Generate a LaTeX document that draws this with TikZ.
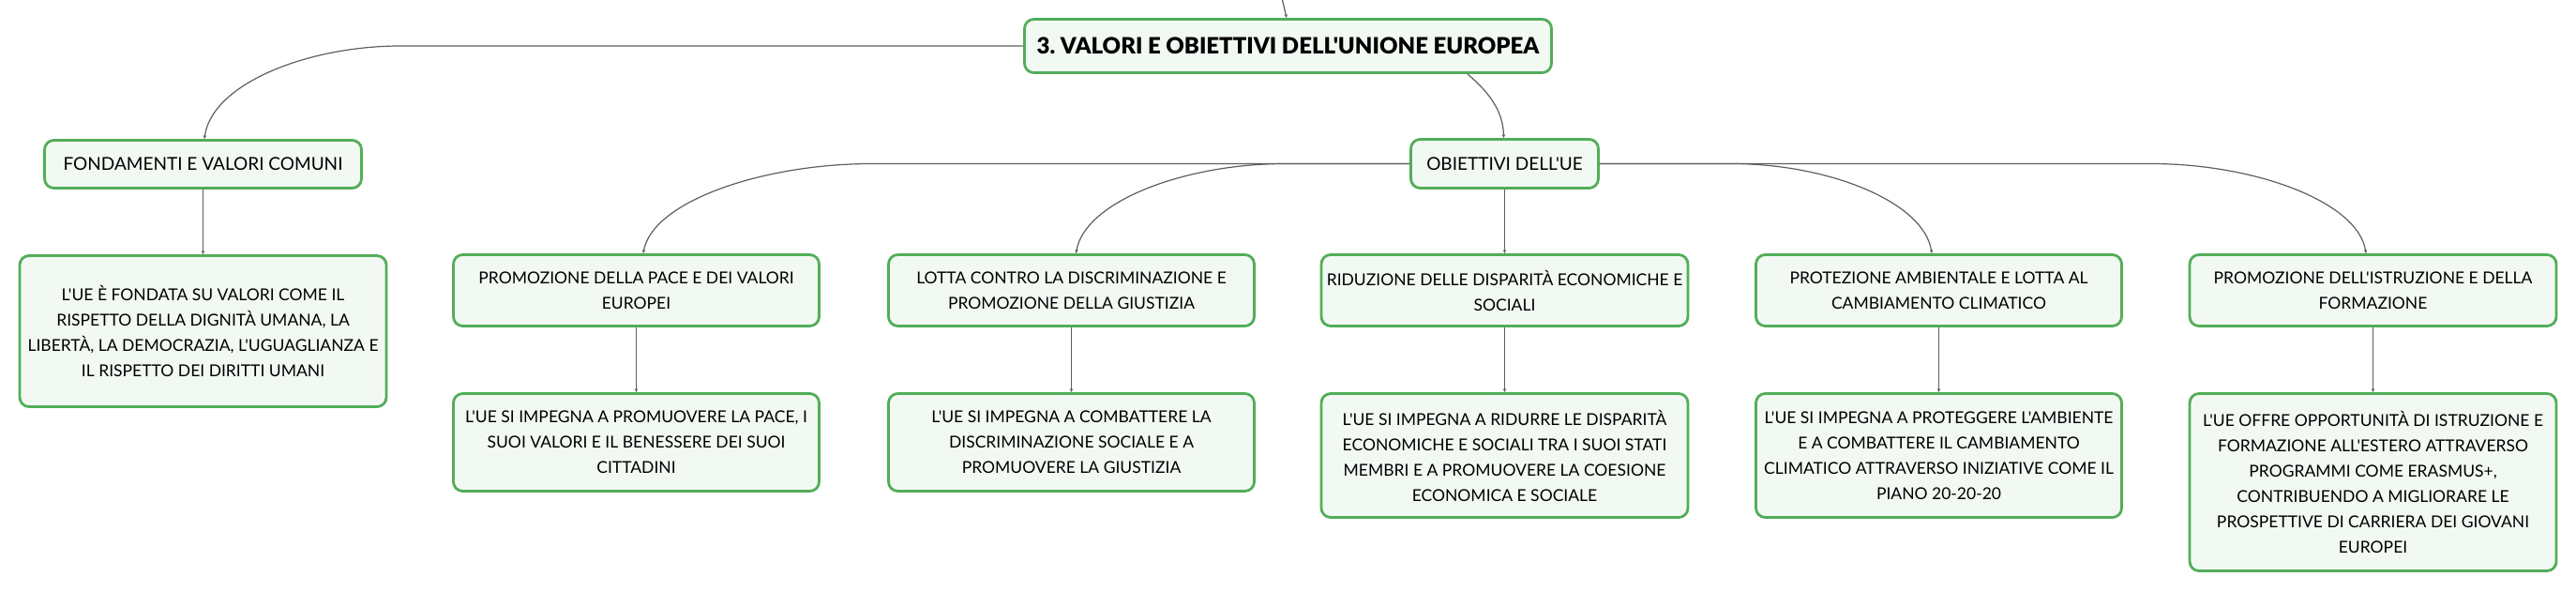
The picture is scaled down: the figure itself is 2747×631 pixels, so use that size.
\documentclass[tikz,border=0pt]{standalone}
\usepackage{fontspec}
\newfontfamily\lato{Lato}
\newfontfamily\latoblack{Lato Black}
\usetikzlibrary{arrows.meta}
\definecolor{boxfill}{RGB}{242,249,243}
\definecolor{boxline}{RGB}{82,173,88}
\definecolor{conncol}{RGB}{95,95,95}
\tikzset{
  mbox/.style={draw=boxline, fill=boxfill, line width=2.8pt, rounded corners=10pt,
    align=center, inner sep=0pt, text=black},
  rootbox/.style={mbox, font=\latoblack\fontsize{24}{30}\selectfont},
  lvlone/.style={mbox, font=\lato\fontsize{19}{27}\selectfont},
  lvltwo/.style={mbox, font=\lato\fontsize{17.5}{27}\selectfont},
  conn/.style={draw=conncol, line width=1.2pt, -{Stealth[length=4pt,width=3.5pt]}}
}
\begin{document}
\frenchspacing
\begin{tikzpicture}[x=1pt,y=-1pt]
\useasboundingbox (0,0) rectangle (2747,631);
\fill[white] (0,0) rectangle (2747,631);

% root
\node[rootbox, minimum width=562pt, minimum height=57pt] (root) at (1373.5,49)
  {3. VALORI E OBIETTIVI DELL'UNIONE EUROPEA};
\coordinate (up) at (1367,-2);

% level one
\node[lvlone, minimum width=338pt, minimum height=51pt] (fond) at (216.5,175)
  {FONDAMENTI E VALORI COMUNI};
\node[lvlone, minimum width=200pt, minimum height=52pt] (obj) at (1604.5,174.5)
  {OBIETTIVI DELL'UE};

% fondamenti child
\node[lvltwo, minimum width=391pt, minimum height=161pt] (fondc) at (216.5,353)
  {L'UE È FONDATA SU VALORI COME IL\\RISPETTO DELLA DIGNITÀ UMANA, LA\\LIBERTÀ, LA DEMOCRAZIA, L'UGUAGLIANZA E\\IL RISPETTO DEI DIRITTI UMANI};

% level two
\node[lvltwo, minimum width=390pt, minimum height=76pt] (pace) at (678.5,309.5)
  {PROMOZIONE DELLA PACE E DEI VALORI\\EUROPEI};
\node[lvltwo, minimum width=390pt, minimum height=76pt] (lotta) at (1142.5,309.5)
  {LOTTA CONTRO LA DISCRIMINAZIONE E\\PROMOZIONE DELLA GIUSTIZIA};
\node[lvltwo, minimum width=391pt, minimum height=76pt] (ridu) at (1604.5,309.5)
  {RIDUZIONE DELLE DISPARITÀ ECONOMICHE E\\SOCIALI};
\node[lvltwo, minimum width=390pt, minimum height=76pt] (prot) at (2067.5,309.5)
  {PROTEZIONE AMBIENTALE E LOTTA AL\\CAMBIAMENTO CLIMATICO};
\node[lvltwo, minimum width=391pt, minimum height=76pt] (istr) at (2530.5,309.5)
  {PROMOZIONE DELL'ISTRUZIONE E DELLA\\FORMAZIONE};

% children
\node[lvltwo, minimum width=390pt, minimum height=104pt] (pacec) at (678.5,471.5)
  {L'UE SI IMPEGNA A PROMUOVERE LA PACE, I\\SUOI VALORI E IL BENESSERE DEI SUOI\\CITTADINI};
\node[lvltwo, minimum width=390pt, minimum height=104pt] (lottac) at (1142.5,471.5)
  {L'UE SI IMPEGNA A COMBATTERE LA\\DISCRIMINAZIONE SOCIALE E A\\PROMUOVERE LA GIUSTIZIA};
\node[lvltwo, minimum width=391pt, minimum height=132pt] (riduc) at (1604.5,485.5)
  {L'UE SI IMPEGNA A RIDURRE LE DISPARITÀ\\ECONOMICHE E SOCIALI TRA I SUOI STATI\\MEMBRI E A PROMUOVERE LA COESIONE\\ECONOMICA E SOCIALE};
\node[lvltwo, minimum width=390pt, minimum height=132pt] (protc) at (2067.5,485.5)
  {L'UE SI IMPEGNA A PROTEGGERE L'AMBIENTE\\E A COMBATTERE IL CAMBIAMENTO\\CLIMATICO ATTRAVERSO INIZIATIVE COME IL\\PIANO 20-20-20};
\node[lvltwo, minimum width=391pt, minimum height=189pt] (istrc) at (2530.5,514)
  {L'UE OFFRE OPPORTUNITÀ DI ISTRUZIONE E\\FORMAZIONE ALL'ESTERO ATTRAVERSO\\PROGRAMMI COME ERASMUS+,\\CONTRIBUENDO A MIGLIORARE LE\\PROSPETTIVE DI CARRIERA DEI GIOVANI\\EUROPEI};

% connectors
\draw[conn] (up) -- ([xshift=-1.5pt]root.north);
\draw[conn] (root.west) -- (427,49) .. controls (327,49) and (225,90) .. ([xshift=1.5pt]fond.north);
\draw[conn] (1565,79) .. controls (1590,100) and (1603,120) .. ([xshift=-1pt]obj.north);

\draw[conn] (fond.south) -- (fondc.north);

\draw[conn] (obj.west) -- (930,174.5) .. controls (813,174.5) and (695,215) .. ([xshift=7.5pt]pace.north);
\draw[conn] (obj.west) -- (1370,174.5) .. controls (1263,174.5) and (1156,215) .. ([xshift=5pt]lotta.north);
\draw[conn] (obj.south) -- (ridu.north);
\draw[conn] (obj.east) -- (1847,174.5) .. controls (1949,174.5) and (2052,215) .. ([xshift=-7.5pt]prot.north);
\draw[conn] (obj.east) -- (2294,174.5) .. controls (2404,174.5) and (2515,215) .. ([xshift=-7.5pt]istr.north);

\draw[conn] (pace.south) -- (pacec.north);
\draw[conn] (lotta.south) -- (lottac.north);
\draw[conn] (ridu.south) -- (riduc.north);
\draw[conn] (prot.south) -- (protc.north);
\draw[conn] (istr.south) -- (istrc.north);
\end{tikzpicture}
\end{document}
